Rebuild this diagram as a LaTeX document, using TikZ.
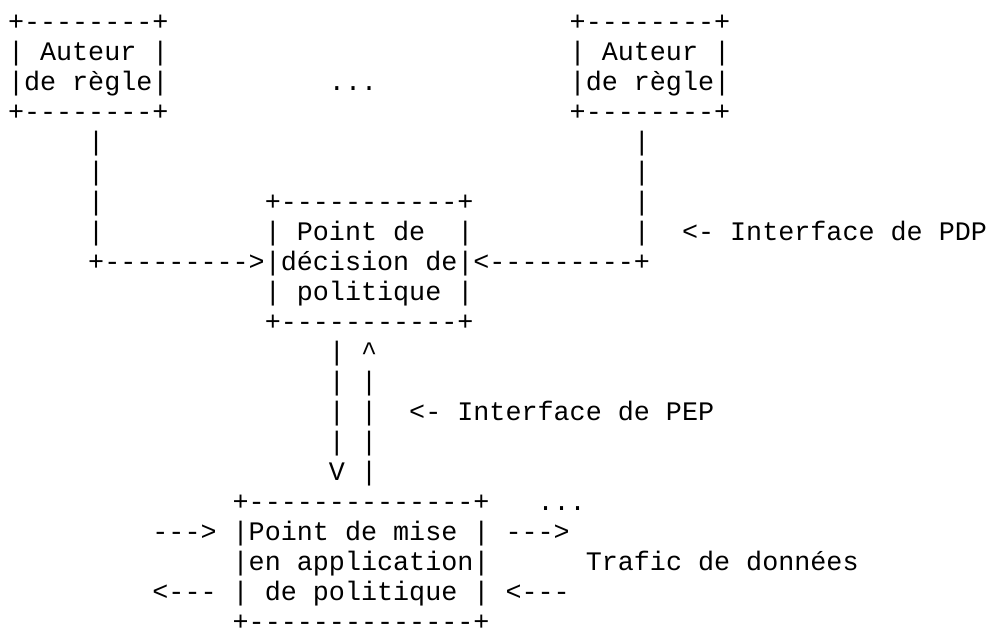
\documentclass[tikz,border=0pt]{standalone}
\usepackage{fontspec}
\setmonofont{Liberation Mono}
\usepackage{tikz}
\newcommand{\asciifont}{\ttfamily\fontsize{20.06pt}{22.5pt}\selectfont}
\tikzset{ascii/.style={inner sep=0pt, outer sep=0pt, anchor=base west, align=left, font=\asciifont}}

\begin{document}
\begin{tikzpicture}[x=12.036pt, y=-22.5pt]
	\useasboundingbox (-0.4985,0) rectangle (60.94,21.133);
	\node[ascii] (authorA) at (0,4) {+--------+\\|~Auteur~|\\|de~règle|\\+--------+};
	\node[ascii] (authorB) at (35,4) {+--------+\\|~Auteur~|\\|de~règle|\\+--------+};
	\node[ascii] (moreAuthors) at (20,3) {...};
	\node[ascii] (pdp) at (16,11) {+-----------+\\|~Point~de~~|\\|décision~de|\\|~politique~|\\+-----------+};
	\node[ascii] (linkA) at (5,9) {|\\|\\|\\|\\+--------->};
	\node[ascii, anchor=base east, align=right] (linkB) at (40,9) {|\\|\\|\\|\\<---------+};
	\node[ascii] (pdpLabel) at (42,8) {<-~Interface~de~PDP};
	\node[ascii] (pepLink) at (20,16) {|~\textasciicircum\\|~|\\|~|\\|~|\\V~|};
	\node[ascii] (pepLabel) at (25,14) {<-~Interface~de~PEP};
	\node[ascii] (pep) at (14,21) {+--------------+\\|Point~de~mise~|\\|en~application|\\|~de~politique~|\\+--------------+};
	\node[ascii] (moreFlows) at (33,17) {...};
	\node[ascii] (inLeft) at (9,18) {--->};
	\node[ascii] (outLeft) at (9,20) {<---};
	\node[ascii] (outRight) at (31,18) {--->};
	\node[ascii] (inRight) at (31,20) {<---};
	\node[ascii] (trafficLabel) at (36,19) {Trafic~de~données};
\end{tikzpicture}
\end{document}
